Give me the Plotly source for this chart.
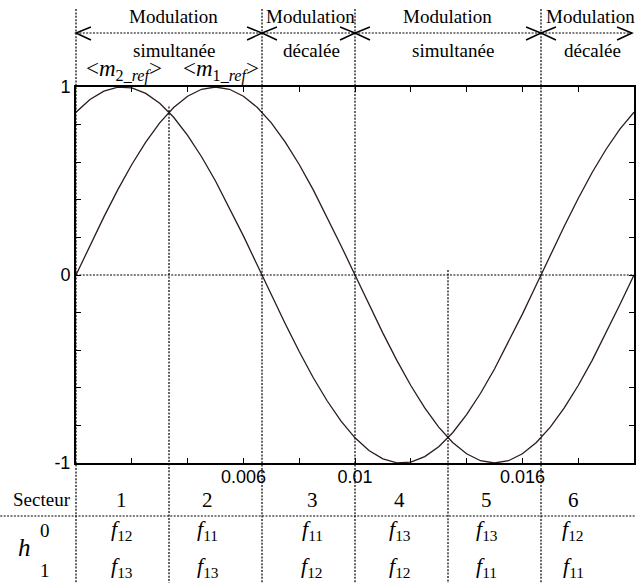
import plotly.graph_objects as go

# Two modulating references over one 50 Hz period (sampled every 0.5 ms)
time_s = [0.0000, 0.0005, 0.0010, 0.0015, 0.0020, 0.0025, 0.0030, 0.0035, 0.0040, 0.0045,
          0.0050, 0.0055, 0.0060, 0.0065, 0.0070, 0.0075, 0.0080, 0.0085, 0.0090, 0.0095,
          0.0100, 0.0105, 0.0110, 0.0115, 0.0120, 0.0125, 0.0130, 0.0135, 0.0140, 0.0145,
          0.0150, 0.0155, 0.0160, 0.0165, 0.0170, 0.0175, 0.0180, 0.0185, 0.0190, 0.0195,
          0.0200]
m1_ref = [0.000, 0.156, 0.309, 0.454, 0.588, 0.707, 0.809, 0.891, 0.951, 0.988,
          1.000, 0.988, 0.951, 0.891, 0.809, 0.707, 0.588, 0.454, 0.309, 0.156,
          0.000, -0.156, -0.309, -0.454, -0.588, -0.707, -0.809, -0.891, -0.951, -0.988,
          -1.000, -0.988, -0.951, -0.891, -0.809, -0.707, -0.588, -0.454, -0.309, -0.156,
          0.000]
m2_ref = [0.866, 0.934, 0.978, 0.999, 0.995, 0.966, 0.914, 0.839, 0.743, 0.629,
          0.500, 0.358, 0.208, 0.052, -0.105, -0.259, -0.407, -0.545, -0.669, -0.777,
          -0.866, -0.934, -0.978, -0.999, -0.995, -0.966, -0.914, -0.839, -0.743, -0.629,
          -0.500, -0.358, -0.208, -0.052, 0.105, 0.259, 0.407, 0.545, 0.669, 0.777,
          0.866]

# Axis ticks
x_tick_vals = [0.0, 0.002, 0.004, 0.006, 0.008, 0.010, 0.012, 0.014, 0.016, 0.018, 0.020]
x_tick_text = ["", "", "", "0.006", "", "0.01", "", "", "0.016", "", "0.02"]
y_tick_vals = [-1.0, -0.8, -0.6, -0.4, -0.2, 0.0, 0.2, 0.4, 0.6, 0.8, 1.0]
y_tick_text = ["-1", "", "", "", "", "0", "", "", "", "", "1"]

# Modulation zones (bounds in seconds) and their labels
zone_bounds = [0.0, 0.02 / 3, 0.01, 0.05 / 3, 0.02]
zone_title = ["Modulation", "Modulation", "Modulation", "Modulation"]
zone_kind = ["simultanée", "décalée", "simultanée", "décalée"]

# Sector table
sector_bounds = [0.0, 0.01 / 3, 0.02 / 3, 0.01, 0.04 / 3, 0.05 / 3, 0.02]
secteurs = ["1", "2", "3", "4", "5", "6"]
h0_cells = ["12", "11", "11", "13", "13", "12"]
h1_cells = ["13", "13", "12", "12", "11", "11"]

# ---- page geometry (pixels) ----
W, H = 638, 583
ML, MR, MT, MB = 76, 2, 87, 120
PW, PH = W - ML - MR, H - MT - MB
T_END = x_tick_vals[-1]


def px_x(px):
    return (px - ML) / PW


def px_y(py):
    return (H - MB - py) / PH


def t_x(t):
    return t / T_END


INK = "#2a1c19"
SERIF = "Liberation Serif, Times New Roman, serif"
SANS = "Liberation Sans, Arial, sans-serif"
DOT = "2px,1.4px"

fig = go.Figure()
fig.add_trace(go.Scatter(x=time_s, y=m2_ref, mode="lines", name="m2_ref",
                         line=dict(color=INK, width=1.3), hoverinfo="skip"))
fig.add_trace(go.Scatter(x=time_s, y=m1_ref, mode="lines", name="m1_ref",
                         line=dict(color=INK, width=1.3), hoverinfo="skip"))

shapes = []
dot_line = dict(color="black", width=1.2, dash=DOT)

# zero line inside the plot
shapes.append(dict(type="line", xref="x", yref="y", x0=0, x1=T_END, y0=0, y1=0,
                   line=dot_line, layer="below"))

# vertical sector / zone separators
y_bottom = px_y(H)
for t in sector_bounds[:-1]:
    if t in (sector_bounds[1],):
        top = px_y(87 + (1 - m1_ref[7]) * PH / 2 - 1)
    elif abs(t - sector_bounds[4]) < 1e-9:
        top = px_y(270)
    else:
        top = px_y(9)
    shapes.append(dict(type="line", xref="paper", yref="paper",
                       x0=t_x(t), x1=t_x(t), y0=top, y1=y_bottom, line=dot_line))

# dotted double-arrow line over the zones
y_arrow = px_y(33)
shapes.append(dict(type="line", xref="paper", yref="paper", x0=0, x1=px_x(634),
                   y0=y_arrow, y1=y_arrow, line=dot_line))
head_dx = 15 / PW
head_up, head_dn = px_y(27), px_y(40)
for i, t in enumerate(zone_bounds):
    xt = t_x(t) if i < len(zone_bounds) - 1 else px_x(634)
    if i < len(zone_bounds) - 1:
        shapes.append(dict(type="path", xref="paper", yref="paper",
                           path=f"M {xt + head_dx},{head_up} L {xt},{y_arrow} L {xt + head_dx},{head_dn}",
                           line=dict(color="black", width=1.5)))
    if i > 0:
        shapes.append(dict(type="path", xref="paper", yref="paper",
                           path=f"M {xt - head_dx},{head_up} L {xt},{y_arrow} L {xt - head_dx},{head_dn}",
                           line=dict(color="black", width=1.5)))

# table separator
shapes.append(dict(type="line", xref="paper", yref="paper", x0=px_x(0), x1=px_x(W),
                   y0=px_y(516), y1=px_y(516), line=dot_line))

annotations = []


def label(text, px, py, size=19, family=SERIF):
    annotations.append(dict(text=text, xref="paper", yref="paper", x=px_x(px), y=px_y(py),
                            xanchor="center", yanchor="middle", showarrow=False,
                            font=dict(family=family, size=size, color="black")))


title_px = [174, 311, 449, 592]
kind_px = [174, 312, 454, 594]
for title, kind, tx, kx in zip(zone_title, zone_kind, title_px, kind_px):
    label(title, tx, 16)
    label(kind, kx, 50)

label("&lt;<i>m</i><sub>2_<i>ref</i></sub>&gt;", 124, 70, size=23)
label("&lt;<i>m</i><sub>1_<i>ref</i></sub>&gt;", 222, 70, size=23)

cell_px = [122, 208, 313, 401, 488, 575]
label("Secteur", 42, 499, size=19)
label("<i>h</i>", 24, 547, size=25)
label("0", 45, 530, size=19)
label("1", 45, 570, size=19)
for s, a, b, cx in zip(secteurs, h0_cells, h1_cells, cell_px):
    label(s, cx, 500, size=21)
    label(f"<i>f</i><sub>{a}</sub>", cx, 530, size=22)
    label(f"<i>f</i><sub>{b}</sub>", cx, 567, size=22)

axis_common = dict(showline=True, mirror="ticks", linecolor="black", linewidth=2,
                   ticks="inside", ticklen=5, tickwidth=1, tickcolor="black",
                   showgrid=False, zeroline=False,
                   tickfont=dict(family=SANS, size=18, color="black"))

fig.update_layout(
    width=W, height=H,
    margin=dict(l=ML, r=MR, t=MT, b=MB, pad=0),
    paper_bgcolor="white", plot_bgcolor="white",
    showlegend=False,
    xaxis=dict(range=[0, T_END], tickmode="array", tickvals=x_tick_vals,
               ticktext=x_tick_text, ticklabelstandoff=-4, **axis_common),
    yaxis=dict(range=[-1, 1], tickmode="array", tickvals=y_tick_vals,
               ticktext=y_tick_text, **axis_common),
    shapes=shapes,
    annotations=annotations,
)

fig.write_html("out.html")
